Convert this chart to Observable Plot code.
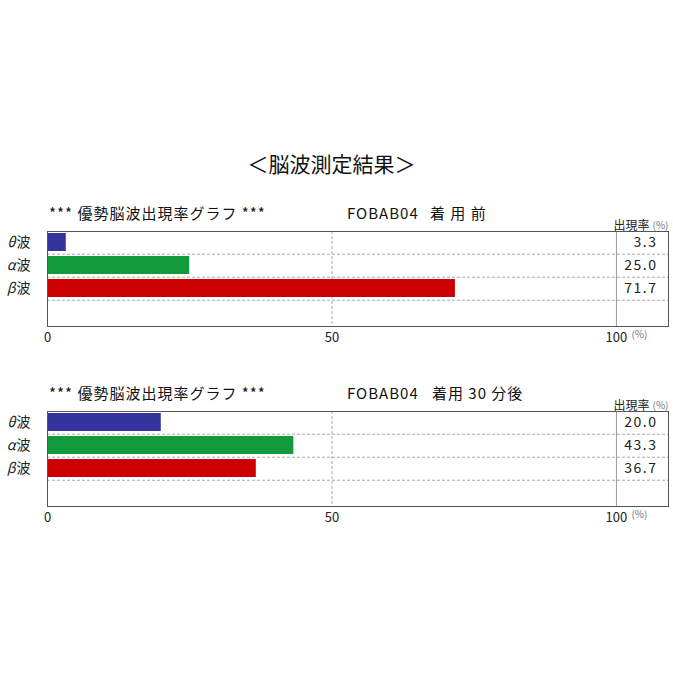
<!DOCTYPE html>
<html>
<head>
<meta charset="utf-8">
<script src="https://cdn.jsdelivr.net/npm/d3@7"></script>
<script src="https://cdn.jsdelivr.net/npm/@observablehq/plot@0.6"></script>
<style>
  body { margin: 0; background: #fff; font-family: "Noto Sans CJK JP", "Noto Sans", sans-serif; }
  #page { position: relative; width: 673px; height: 673px; overflow: hidden; background: #fff; }
  .title { position: absolute; top: 149px; left: 0; width: 663px; text-align: center; font-size: 21px; line-height: 28px; color: #111; z-index: 2; }
  .hdr { position: absolute; font-size: 15px; line-height: 20px; color: #111; white-space: pre; letter-spacing: 1px; z-index: 2; }
  .chart { position: absolute; left: 0; z-index: 1; }
</style>
</head>
<body>
<div id="page"></div>
<script>
// ---- data ----
const pageTitle = "＜脳波測定結果＞";
const graphTitle = "*** 優勢脳波出現率グラフ ***";
const deviceName = "FOBAB04";
const conditions = ["着 用 前", "着用 30 分後"];
const waves = ["θ波", "α波", "β波"];
const greekLetters = ["θ", "α", "β"];
const waveSuffix = "波";
const valuesBefore = [3.3, 25.0, 71.7];
const valuesAfter = [20.0, 43.3, 36.7];
const waveColors = ["#34349e", "#129a3c", "#cc0000"];
const xTicks = [0, 50, 100];
const columnHeader = "出現率";
const unitLabel = "(%)";

const page = document.getElementById("page");
const FONT = '"Noto Sans CJK JP", "Noto Sans", sans-serif';

function addHeader(text, left, top) {
  const d = document.createElement("div");
  d.className = "hdr";
  d.style.left = left + "px";
  d.style.top = top + "px";
  d.textContent = text;
  page.appendChild(d);
}

function makeChart(values, top) {
  const data = waves.map((w, i) => ({wave: w, greek: greekLetters[i], value: values[i]}));
  const yDomain = [...waves, ""];
  const innerH = 95;
  const step = innerH / (yDomain.length - 0.2 + 2 * 0.12);
  const svg = Plot.plot({
    width: 673,
    height: 150,
    marginLeft: 47,
    marginRight: 5,
    marginTop: 31,
    marginBottom: 24,
    style: {fontFamily: FONT, fontSize: "13px", color: "#222", background: "transparent", overflow: "visible"},
    x: {domain: [0, 109.15], axis: null},
    y: {domain: yDomain, paddingInner: 0.2, paddingOuter: 0.12, align: 0.3, axis: null},
    color: {domain: waves, range: waveColors},
    marks: [
      Plot.ruleY(waves, {y: d => d, dy: step / 2, stroke: "#aaa", strokeDasharray: "3,2"}),
      Plot.ruleX([50], {x: d => d, stroke: "#aaa", strokeDasharray: "3,2"}),
      Plot.ruleX([100], {x: d => d, stroke: "#999"}),
      Plot.barX(data, {y: "wave", x: "value", fill: "wave"}),
      Plot.frame({stroke: "#555"}),
      Plot.axisX({ticks: xTicks, tickSize: 0, tickPadding: 6, fontSize: 13, fill: "#222", label: null}),
      Plot.text([100], {x: d => d, frameAnchor: "bottom", dy: 11, dx: 15, textAnchor: "start", text: () => unitLabel, fontSize: 10, fill: "#777"}),
      Plot.text(data, {y: "wave", text: () => waveSuffix, frameAnchor: "left", dx: -17, textAnchor: "end", fontSize: 14, fill: "#222"}),
      Plot.text(data, {y: "wave", text: "greek", frameAnchor: "left", dx: -32, textAnchor: "end", fontSize: 14, fontStyle: "italic", fill: "#222"}),
      Plot.text(data, {y: "wave", text: d => d.value.toFixed(1), frameAnchor: "right", dx: -11, textAnchor: "end", fontSize: 14, fill: "#222"}),
      Plot.text([columnHeader], {frameAnchor: "top-right", dy: -10, dx: -19, textAnchor: "end", fontSize: 12, fill: "#222"}),
      Plot.text([unitLabel], {frameAnchor: "top-right", dy: -10, dx: 0, textAnchor: "end", fontSize: 10, fill: "#777"})
    ]
  });
  svg.classList.add("chart");
  svg.style.top = top + "px";
  svg.querySelectorAll("text").forEach(n => { if (/^\d+\.\d$/.test(n.textContent)) n.setAttribute("letter-spacing", "1.5"); });
  page.appendChild(svg);
}

const t = document.createElement("div");
t.className = "title";
t.textContent = pageTitle;
page.appendChild(t);

makeChart(valuesBefore, 200);
makeChart(valuesAfter, 380);

addHeader(graphTitle, 49, 203);
addHeader(deviceName, 347, 203);
addHeader(conditions[0], 430, 203);

addHeader(graphTitle, 49, 383);
addHeader(deviceName, 347, 383);
addHeader(conditions[1], 432, 383);
</script>
</body>
</html>
